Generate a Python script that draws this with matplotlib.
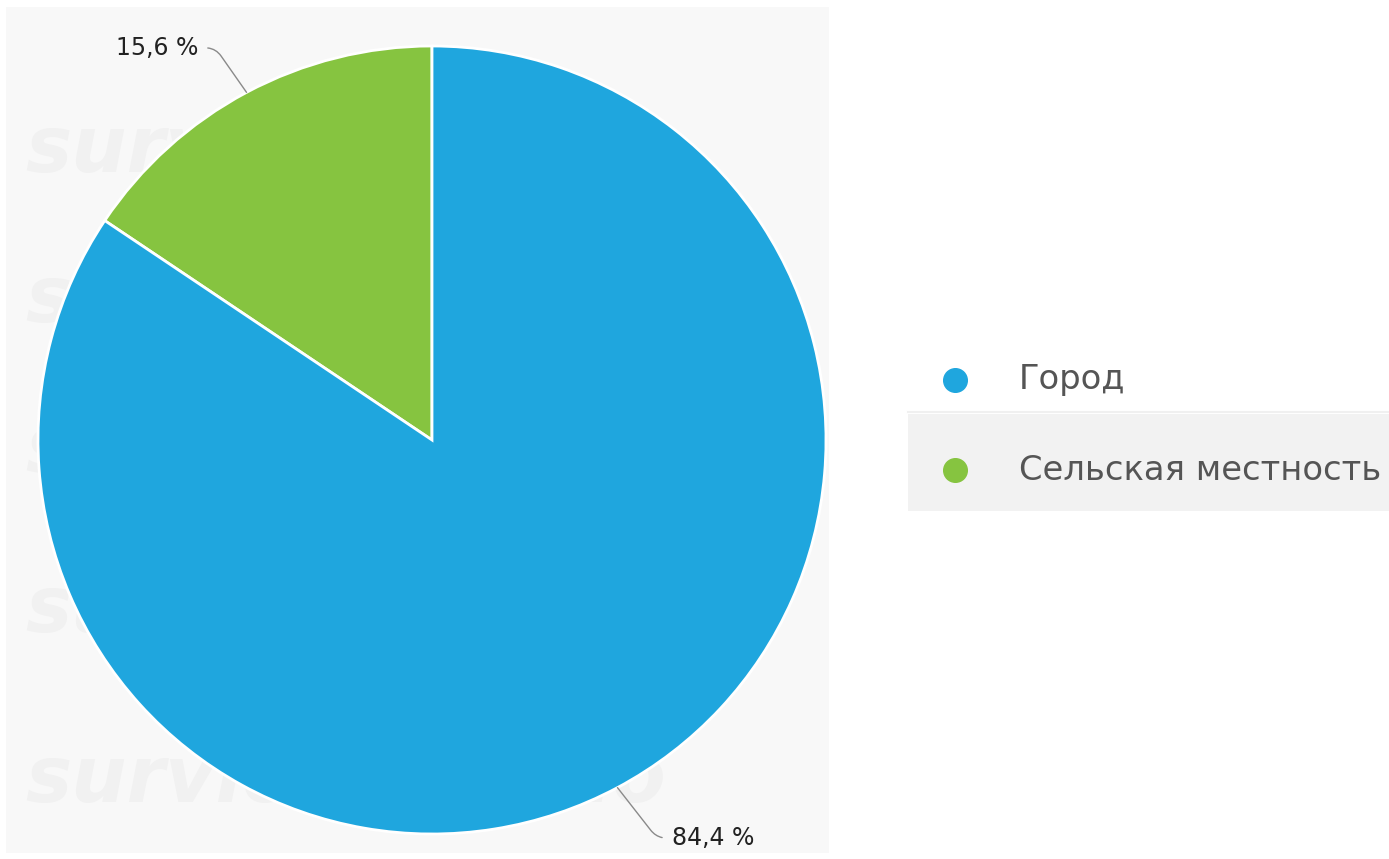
import matplotlib
matplotlib.use("Agg")
import matplotlib.pyplot as plt
from matplotlib.patches import Rectangle
from matplotlib.lines import Line2D
import numpy as np

# ---- data ----
categories = ["Город", "Сельская местность"]
values = [84.4, 15.6]
colors = ["#1fa6de", "#86c440"]

W, H = 1389, 859
fig = plt.figure(figsize=(W / 100, H / 100), dpi=100)
fig.patch.set_facecolor("white")
plt.rcParams['font.family'] = ['DejaVu Sans']

def fx(px):
    return px / W

def fy(py):
    return 1 - py / H

# grey chart panel
fig.add_artist(Rectangle((fx(6), fy(853)), fx(829) - fx(6), fy(7) - fy(853),
                         transform=fig.transFigure, facecolor="#f8f8f8",
                         edgecolor="none", zorder=0))

# faint watermarks
rows = [150, 300, 450, 610, 780]
for ry in rows:
    for wx in [25, 395]:
        fig.text(fx(wx), fy(ry), "survio", transform=fig.transFigure,
                 fontsize=56, fontweight="bold", fontstyle="italic",
                 color="#f1f1f1", va="center", ha="left", zorder=0.5)

# pie axes: centre (432, 440), radius 394 px
cx, cy, R = 432, 440, 394
ax = fig.add_axes([fx(cx - R), fy(cy + R), 2 * R / W, 2 * R / H])
ax.set_zorder(2)

# green (second category) drawn first from 12 o'clock counter-clockwise
order = [1, 0]
vals = [values[i] for i in order]
cols = [colors[i] for i in order]
wedges, _ = ax.pie(vals, colors=cols, startangle=90, counterclock=True,
                   radius=1.0, wedgeprops=dict(edgecolor="white", linewidth=2))
ax.set_xlim(-1, 1)
ax.set_ylim(-1, 1)
ax.axis("off")

# labels with leader lines
offsets = {1: (-0.123, 0.113, "right", "angle,angleA=0,angleB=125,rad=10"),
           0: (0.138, -0.128, "left", "angle,angleA=180,angleB=-52,rad=10")}
for w, idx in zip(wedges, order):
    ang = np.deg2rad((w.theta1 + w.theta2) / 2)
    x, y = np.cos(ang), np.sin(ang)
    dx, dy, ha, cs = offsets[idx]
    txt = f"{values[idx]:.1f} %".replace(".", ",")
    ax.annotate(txt, xy=(x, y), xytext=(x + dx, y + dy), ha=ha, va="center",
                fontsize=17, color="#222222",
                arrowprops=dict(arrowstyle="-", color="#8a8a8a", lw=1.0,
                                connectionstyle=cs, shrinkA=5, shrinkB=0),
                annotation_clip=False)

# legend
fig.add_artist(Rectangle((fx(908), fy(511)), fx(1389) - fx(908), fy(414) - fy(511),
                         transform=fig.transFigure, facecolor="#f2f2f2",
                         edgecolor="none", zorder=1))
fig.add_artist(Line2D([fx(908), fx(1389)], [fy(412), fy(412)],
                      transform=fig.transFigure, color="#f0f0f0", lw=1.5))
leg_y = [380, 470]
for cat, col, ly in zip(categories, colors, leg_y):
    fig.add_artist(Line2D([fx(955)], [fy(ly)], marker="o", markersize=17,
                          markerfacecolor=col, markeredgecolor=col,
                          transform=fig.transFigure, zorder=3))
    fig.text(fx(1019), fy(ly), cat, fontsize=24.3, color="#555555",
             va="center", ha="left", zorder=3)

fig.savefig("out.png", dpi=100, facecolor="white")
